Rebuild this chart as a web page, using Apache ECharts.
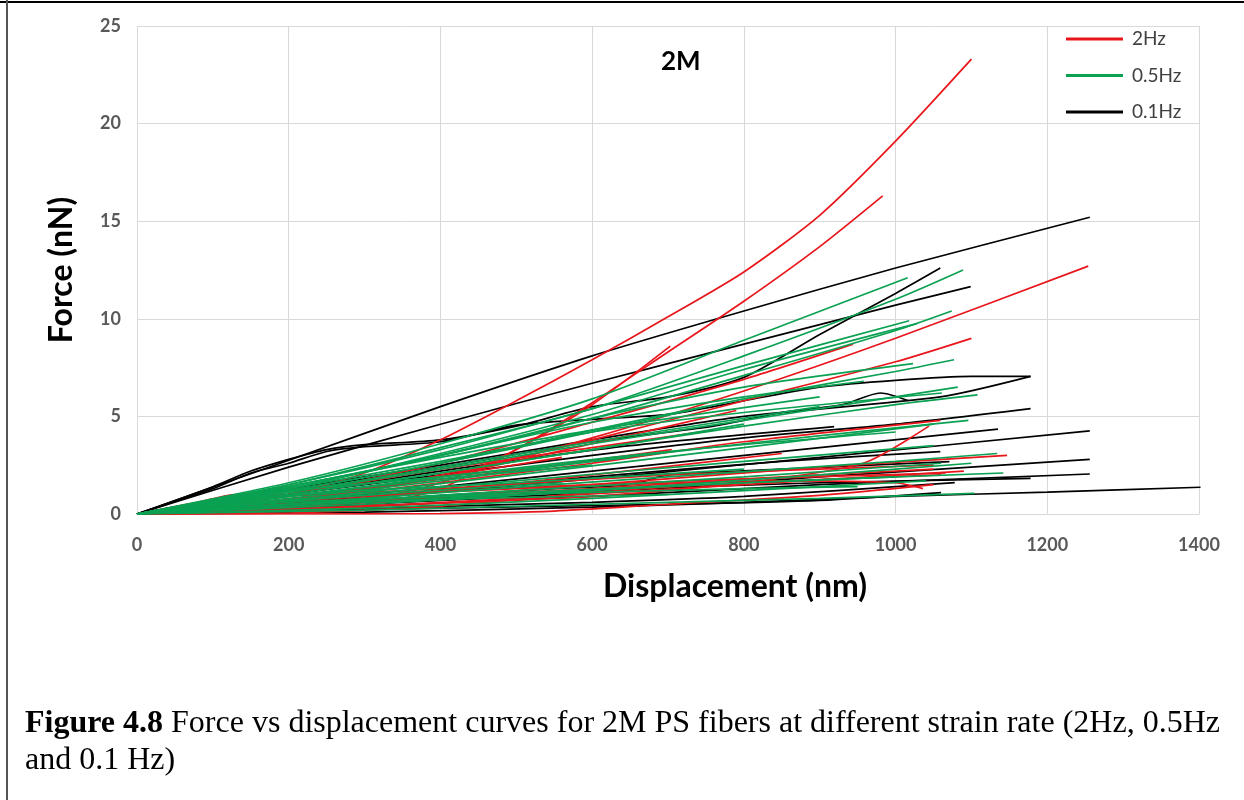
<!DOCTYPE html>
<html>
<head>
<meta charset="utf-8">
<script src="https://cdn.jsdelivr.net/npm/echarts@6/dist/echarts.min.js"></script>
<style>
html,body{margin:0;padding:0;background:#fff;}
#chart{width:1244px;height:800px;}
</style>
</head>
<body>
<div id="chart"></div>
<script>
// ---- data (Displacement nm, Force nN) ----
const groupNames = ['2Hz', '0.5Hz', '0.1Hz'];

const curves2Hz = [
  [[0,0],[100,0.35],[200,1.0],[300,2.1],[400,3.8],[500,5.8],[600,7.9],[700,10.1],[800,12.4],[900,15.3],[1000,19.1],[1100,23.3]],
  [[0,0],[100,0.05],[200,0.15],[300,0.4],[400,1.3],[500,3.3],[600,5.7],[700,8.3],[800,10.9],[900,13.7],[983,16.3]],
  [[0,0],[100,0.1],[200,0.3],[300,0.7],[400,1.6],[500,3.3],[600,5.6],[703,8.6]],
  [[0,0],[200,0.6],[400,1.9],[600,3.9],[800,6.3],[1000,9.0],[1254,12.7]],
  [[0,0],[200,0.6],[400,2.0],[600,3.8],[800,5.8],[1000,7.8],[1100,9.0]],
  [[0,0],[200,1.0],[400,2.6],[600,4.7],[800,6.9],[944,8.7]],
  [[0,0],[200,0.7],[400,1.6],[600,2.6],[800,3.7],[1059,4.8]],
  [[0,0],[300,0.6],[600,1.5],[900,2.4],[1147,3.0]],
  [[0,0],[250,0.8],[500,1.35],[800,1.8],[1066,2.1]],
  [[0,0],[300,0.9],[600,1.45],[850,1.7],[1000,1.6],[1036,1.3]],
  [[0,0],[300,0.4],[600,0.9],[800,1.6],[957,2.6],[1044,4.5]],
  [[0,0],[200,0.9],[450,2.0],[705,3.3]],
  [[0,0],[80,0.6],[130,1.0],[200,0.95],[400,1.3],[700,2.0],[1050,2.5]],
  [[0,0],[200,0],[400,0.02],[550,0.15],[700,0.5],[900,0.95],[1050,1.5]],
  [[0,0],[200,0.05],[400,0.4],[600,1.1],[800,1.6],[1060,2.0]],
  [[0,0],[200,0.7],[400,1.9],[600,3.6],[790,5.3]],
  [[0,0],[300,0.8],[600,2.0],[850,3.1]],
  [[0,0],[200,0.2],[500,0.8],[800,1.5],[1090,2.2]],
  [[0,0],[150,0.5],[350,1.6],[560,2.9]],
  [[0,0],[200,1.0],[400,2.3],[600,3.4],[760,4.3]],
  [[0,0],[300,0.7],[600,1.3],[850,1.9],[1050,2.3]]
];

const curves05Hz = [
  [[0,0],[200,1.5],[400,3.4],[600,5.4],[800,8.1],[1000,11.0],[1089,12.5]],
  [[0,0],[200,1.6],[400,3.6],[600,5.9],[800,8.9],[1016,12.1]],
  [[0,0],[200,1.4],[400,3.0],[600,4.9],[800,7.1],[1000,9.4],[1074,10.4]],
  [[0,0],[200,1.5],[400,3.3],[600,5.4],[800,7.6],[1018,9.9]],
  [[0,0],[200,1.3],[400,3.1],[600,5.1],[800,7.4],[1028,9.75]],
  [[0,0],[200,1.2],[400,2.6],[600,4.3],[800,5.9],[1000,7.3],[1077,7.9]],
  [[0,0],[200,1.4],[400,3.0],[600,4.9],[800,6.5],[1023,7.7]],
  [[0,0],[200,1.1],[400,2.3],[600,3.6],[800,4.8],[1082,6.5]],
  [[0,0],[200,1.0],[400,2.1],[600,3.3],[800,4.5],[1000,5.6],[1108,6.1]],
  [[0,0],[200,1.3],[400,2.7],[600,4.2],[800,5.2],[1061,6.2]],
  [[0,0],[200,0.8],[400,1.7],[600,2.7],[800,3.6],[1096,4.8]],
  [[0,0],[200,0.5],[400,1.1],[700,1.9],[1000,2.7],[1134,3.1]],
  [[0,0],[200,0.4],[500,1.0],[800,1.6],[1142,2.1]],
  [[0,0],[300,0.2],[600,0.5],[900,0.8],[1104,1.06]],
  [[0,0],[200,1.3],[400,3.0],[600,4.7],[800,6.0],[958,6.8]],
  [[0,0],[200,1.1],[400,2.4],[600,3.7],[900,5.5]],
  [[0,0],[200,0.9],[400,1.9],[700,3.2],[1000,4.2]],
  [[0,0],[200,0.7],[500,1.7],[800,2.7],[1050,3.5]],
  [[0,0],[250,0.6],[500,1.2],[800,1.9],[1060,2.6]],
  [[0,0],[200,0.5],[500,1.1],[800,1.6],[1000,1.9]],
  [[0,0],[200,0.6],[500,1.0],[800,1.3],[950,1.4]],
  [[0,0],[200,0.5],[450,0.8],[700,1.0]],
  [[0,0],[200,0.9],[400,1.8],[600,2.5]],
  [[0,0],[200,1.0],[400,2.1],[600,3.3],[800,4.6]],
  [[0,0],[300,0.5],[600,1.2],[900,2.0],[1100,2.6]],
  [[0,0],[300,0.3],[600,0.8],[900,1.4],[1040,1.7]],
  [[0,0],[200,1.4],[400,2.9],[600,4.3],[900,6.0]],
  [[0,0],[200,1.2],[400,2.6],[600,4.2],[750,5.5]],
  [[0,0],[250,0.9],[500,2.0],[800,3.4],[1050,4.6]],
  [[0,0],[150,0.5],[350,1.1],[560,1.6]],
  [[0,0],[100,0.7],[200,1.2],[400,1.9],[650,2.9]],
  [[0,0],[100,0.6],[250,1.1],[500,1.6],[800,2.3]]
];

const curves01Hz = [
  [[0,0],[200,2.75],[400,5.5],[600,8.1],[800,10.4],[1000,12.6],[1256,15.2]],
  [[0,0],[200,2.4],[400,4.6],[600,6.7],[800,8.7],[1000,10.7],[1099,11.65]],
  [[0,0],[100,1.4],[150,2.2],[200,2.8],[250,3.3],[300,3.55],[400,3.8],[500,4.5],[600,5.5],[700,6.0],[800,7.0],[900,9.2],[1000,11.3],[1059,12.6]],
  [[0,0],[100,1.3],[150,2.1],[200,2.6],[250,3.2],[300,3.45],[400,3.7],[500,4.55],[600,4.85],[700,5.1],[800,5.8],[900,6.5],[1000,6.85],[1100,7.05],[1178,7.05]],
  [[0,0],[200,1.3],[400,2.5],[600,3.8],[800,5.0],[1059,6.0],[1178,7.05]],
  [[0,0],[200,1.0],[400,2.0],[600,3.0],[800,3.9],[1000,4.6],[1178,5.4]],
  [[0,0],[300,1.0],[600,2.2],[900,3.4],[1135,4.35]],
  [[0,0],[300,0.8],[600,1.8],[900,2.9],[1256,4.26]],
  [[0,0],[300,0.5],[600,1.1],[900,1.9],[1256,2.8]],
  [[0,0],[300,0.4],[600,0.9],[900,1.5],[1256,2.05]],
  [[0,0],[300,0.6],[600,1.2],[900,1.6],[1178,1.83]],
  [[0,0],[300,0.1],[600,0.35],[800,0.6],[1000,0.9],[1200,1.12],[1402,1.37]],
  [[0,0],[300,0.9],[600,1.9],[850,2.7],[1059,3.2]],
  [[0,0],[300,0.7],[550,1.3],[650,1.5],[700,2.0],[850,2.3],[1071,2.68]],
  [[0,0],[300,0.3],[600,0.6],[800,0.9],[1078,1.61]],
  [[0,0],[200,1.0],[400,2.2],[650,3.5],[919,4.48]],
  [[0,0],[200,1.2],[400,2.4],[600,3.7],[760,4.5],[850,5.2],[930,5.6],[980,6.2],[1017,5.8]],
  [[0,0],[400,0.3],[700,0.5],[900,0.7],[1060,1.1]]
];

const groupColors = ['#E8161B', '#0AA152', '#000000'];
const groupCurves = [curves2Hz, curves05Hz, curves01Hz];
const drawOrder = [2, 0, 1]; // black underneath, then red, then green

// ---- build series ----
const series = [];
drawOrder.forEach(function (gi) {
  groupCurves[gi].forEach(function (pts) {
    series.push({
      name: groupNames[gi],
      type: 'line',
      data: pts,
      showSymbol: false,
      symbol: 'none',
      smooth: 0.25,
      itemStyle: { color: groupColors[gi] },
      lineStyle: { color: groupColors[gi], width: 1.7 },
      emphasis: { disabled: true },
      silent: true
    });
  });
});

const chart = echarts.init(document.getElementById('chart'), null, { renderer: 'canvas' });
const tickFont = { fontFamily: 'Lato', fontWeight: 'bold', fontSize: 18, color: '#595959' };

chart.setOption({
  animation: false,
  backgroundColor: '#ffffff',
  grid: { left: 137, right: 45, top: 26, bottom: 286, containLabel: false },
  xAxis: {
    type: 'value', min: 0, max: 1400, interval: 200,
    axisLine: { show: true, lineStyle: { color: '#d9d9d9', width: 1 } },
    axisTick: { show: false },
    axisLabel: Object.assign({ margin: 22, formatter: function (v) { return String(v); } }, tickFont),
    splitLine: { show: true, lineStyle: { color: '#d9d9d9', width: 1 } }
  },
  yAxis: {
    type: 'value', min: 0, max: 25, interval: 5,
    axisLine: { show: false },
    axisTick: { show: false },
    axisLabel: Object.assign({ margin: 16, formatter: function (v) { return String(v); } }, tickFont),
    splitLine: { show: true, lineStyle: { color: '#d9d9d9', width: 1 } }
  },
  legend: {
    data: groupNames,
    orient: 'vertical',
    left: 1066, top: 29,
    padding: 0,
    icon: 'rect',
    itemWidth: 57, itemHeight: 3,
    itemGap: 16.5,
    itemStyle: { borderWidth: 0 },
    textStyle: { fontFamily: 'Lato', fontSize: 19, color: '#404040', lineHeight: 20, padding: [0, 0, 0, 4] },
    selectedMode: false
  },
  series: series,
  graphic: [
    { type: 'line', silent: true, shape: { x1: 0, y1: 2, x2: 1244, y2: 2 }, style: { stroke: '#000', lineWidth: 2 } },
    { type: 'line', silent: true, shape: { x1: 7, y1: 0, x2: 7, y2: 800 }, style: { stroke: '#555', lineWidth: 2 } },
    { type: 'text', silent: true, left: 661, top: 49,
      style: { text: '2M', fontFamily: 'Lato', fontWeight: 'bold', fontSize: 26, fill: '#000' } },
    { type: 'text', silent: true, x: 735, y: 587,
      style: { text: 'Displacement (nm)', fontFamily: 'Lato', fontWeight: 'bold', fontSize: 32, fill: '#000', align: 'center', verticalAlign: 'middle' } },
    { type: 'text', silent: true, x: 62, y: 270, rotation: Math.PI / 2,
      style: { text: 'Force (nN)', fontFamily: 'Lato', fontWeight: 'bold', fontSize: 32, fill: '#000', align: 'center', verticalAlign: 'middle' } },
    { type: 'text', silent: true, x: 25, y: 724,
      style: {
        text: '{b|Figure 4.8} Force vs displacement curves for 2M PS fibers at different strain rate (2Hz, 0.5Hz',
        fontFamily: 'Liberation Serif', fontSize: 32, fill: '#000', verticalAlign: 'middle',
        rich: { b: { fontFamily: 'Liberation Serif', fontWeight: 'bold', fontSize: 32, fill: '#000' } }
      } },
    { type: 'text', silent: true, x: 25, y: 761,
      style: { text: 'and 0.1 Hz)', fontFamily: 'Liberation Serif', fontSize: 32, fill: '#000', verticalAlign: 'middle' } }
  ]
});
</script>
</body>
</html>
